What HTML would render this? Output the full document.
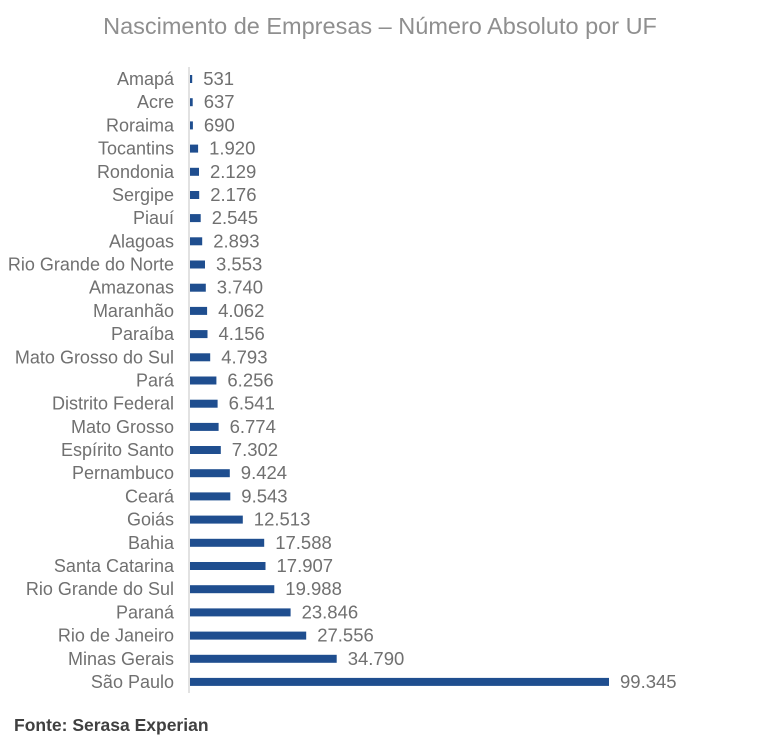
<!DOCTYPE html>
<html><head><meta charset="utf-8"><style>
body{margin:0;background:#fff;width:771px;height:745px;overflow:hidden}
svg{display:block}
text{font-family:"Liberation Sans",Arial,sans-serif}
</style></head><body>
<svg width="771" height="745" xmlns="http://www.w3.org/2000/svg">
<text x="380" y="34" text-anchor="middle" font-size="23.5" fill="#8f8f8f">Nascimento de Empresas – Número Absoluto por UF</text>
<line x1="189" y1="67" x2="189" y2="693" stroke="#d9d9d9" stroke-width="1.5"/>
<g font-size="18" fill="#707070" text-anchor="end">
<text x="174" y="85">Amapá</text>
<text x="174" y="108.2">Acre</text>
<text x="174" y="131.4">Roraima</text>
<text x="174" y="154.6">Tocantins</text>
<text x="174" y="177.8">Rondonia</text>
<text x="174" y="201">Sergipe</text>
<text x="174" y="224.1">Piauí</text>
<text x="174" y="247.3">Alagoas</text>
<text x="174" y="270.5">Rio Grande do Norte</text>
<text x="174" y="293.7">Amazonas</text>
<text x="174" y="316.9">Maranhão</text>
<text x="174" y="340.1">Paraíba</text>
<text x="174" y="363.3">Mato Grosso do Sul</text>
<text x="174" y="386.5">Pará</text>
<text x="174" y="409.7">Distrito Federal</text>
<text x="174" y="432.9">Mato Grosso</text>
<text x="174" y="456">Espírito Santo</text>
<text x="174" y="479.2">Pernambuco</text>
<text x="174" y="502.4">Ceará</text>
<text x="174" y="525.6">Goiás</text>
<text x="174" y="548.8">Bahia</text>
<text x="174" y="572">Santa Catarina</text>
<text x="174" y="595.2">Rio Grande do Sul</text>
<text x="174" y="618.4">Paraná</text>
<text x="174" y="641.6">Rio de Janeiro</text>
<text x="174" y="664.8">Minas Gerais</text>
<text x="174" y="687.9">São Paulo</text>
</g>
<g fill="#1f4e8f">
<rect x="190" y="75" width="2.2" height="8"/>
<rect x="190" y="98.2" width="2.7" height="8"/>
<rect x="190" y="121.4" width="2.9" height="8"/>
<rect x="190" y="144.6" width="8.1" height="8"/>
<rect x="190" y="167.8" width="9" height="8"/>
<rect x="190" y="191" width="9.2" height="8"/>
<rect x="190" y="214.1" width="10.7" height="8"/>
<rect x="190" y="237.3" width="12.2" height="8"/>
<rect x="190" y="260.5" width="15" height="8"/>
<rect x="190" y="283.7" width="15.8" height="8"/>
<rect x="190" y="306.9" width="17.1" height="8"/>
<rect x="190" y="330.1" width="17.5" height="8"/>
<rect x="190" y="353.3" width="20.2" height="8"/>
<rect x="190" y="376.5" width="26.4" height="8"/>
<rect x="190" y="399.7" width="27.6" height="8"/>
<rect x="190" y="422.9" width="28.6" height="8"/>
<rect x="190" y="446" width="30.8" height="8"/>
<rect x="190" y="469.2" width="39.8" height="8"/>
<rect x="190" y="492.4" width="40.3" height="8"/>
<rect x="190" y="515.6" width="52.8" height="8"/>
<rect x="190" y="538.8" width="74.2" height="8"/>
<rect x="190" y="562" width="75.5" height="8"/>
<rect x="190" y="585.2" width="84.3" height="8"/>
<rect x="190" y="608.4" width="100.6" height="8"/>
<rect x="190" y="631.6" width="116.2" height="8"/>
<rect x="190" y="654.8" width="146.7" height="8"/>
<rect x="190" y="677.9" width="419" height="8"/>
</g>
<g font-size="18.5" fill="#707070">
<text x="203.2" y="85">531</text>
<text x="203.7" y="108.2">637</text>
<text x="203.9" y="131.4">690</text>
<text x="209.1" y="154.6">1.920</text>
<text x="210" y="177.8">2.129</text>
<text x="210.2" y="201">2.176</text>
<text x="211.7" y="224.1">2.545</text>
<text x="213.2" y="247.3">2.893</text>
<text x="216" y="270.5">3.553</text>
<text x="216.8" y="293.7">3.740</text>
<text x="218.1" y="316.9">4.062</text>
<text x="218.5" y="340.1">4.156</text>
<text x="221.2" y="363.3">4.793</text>
<text x="227.4" y="386.5">6.256</text>
<text x="228.6" y="409.7">6.541</text>
<text x="229.6" y="432.9">6.774</text>
<text x="231.8" y="456">7.302</text>
<text x="240.8" y="479.2">9.424</text>
<text x="241.3" y="502.4">9.543</text>
<text x="253.8" y="525.6">12.513</text>
<text x="275.2" y="548.8">17.588</text>
<text x="276.5" y="572">17.907</text>
<text x="285.3" y="595.2">19.988</text>
<text x="301.6" y="618.4">23.846</text>
<text x="317.2" y="641.6">27.556</text>
<text x="347.7" y="664.8">34.790</text>
<text x="620" y="687.9">99.345</text>
</g>
<text x="14" y="731" font-size="17.5" font-weight="bold" fill="#404040">Fonte: Serasa Experian</text>
</svg>
</body></html>
